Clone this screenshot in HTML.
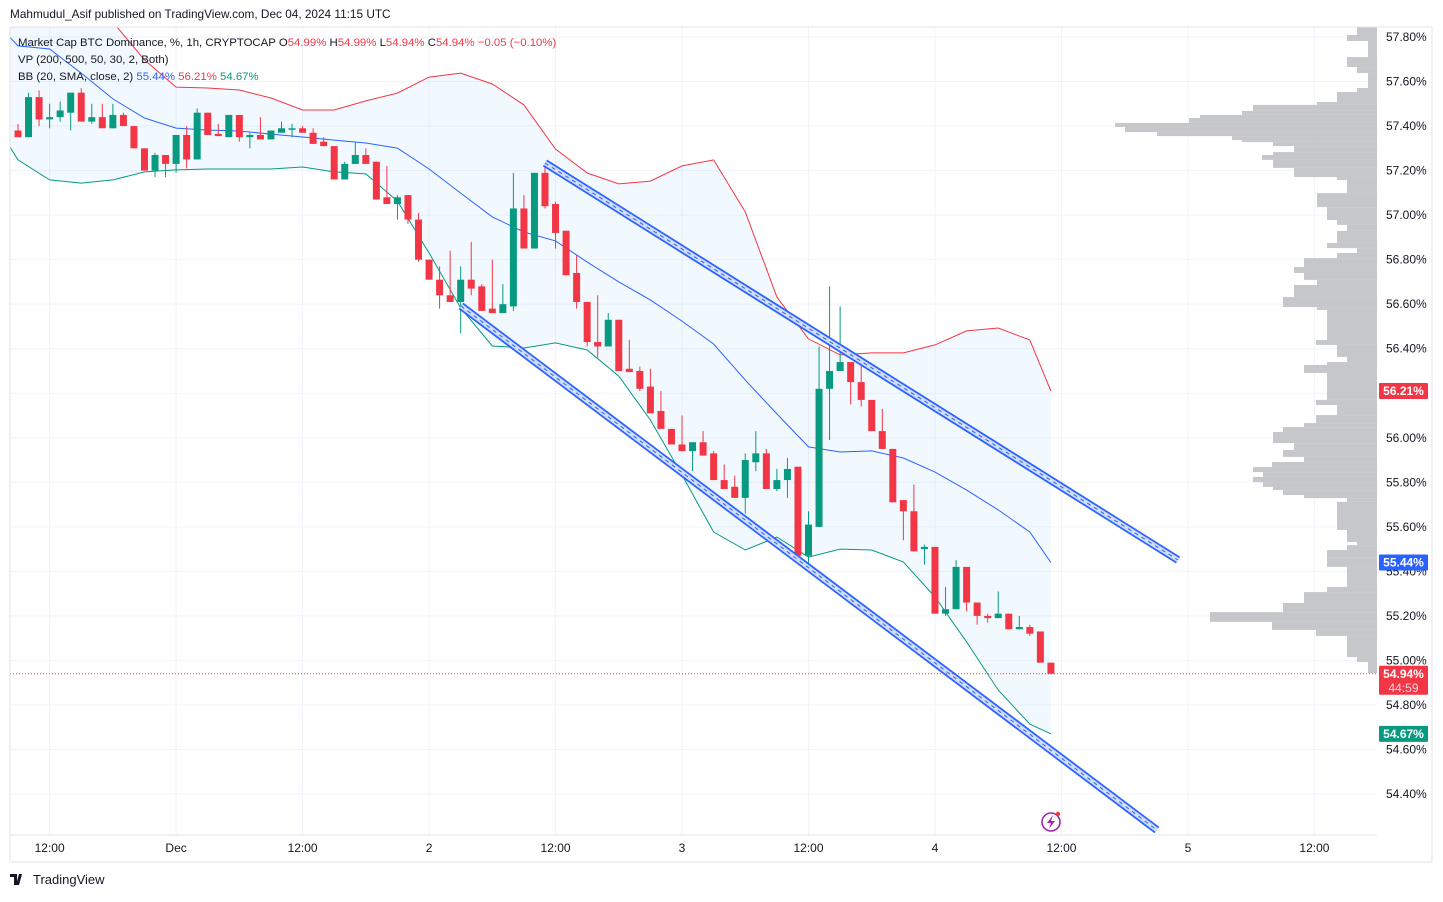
<!DOCTYPE html>
<html><head><meta charset="utf-8">
<style>
body{margin:0;background:#fff;width:1443px;height:897px;overflow:hidden;font-family:"Liberation Sans",sans-serif;}
svg text{font-family:"Liberation Sans",sans-serif;}
</style></head>
<body>
<svg id="chart" width="1443" height="897" xmlns="http://www.w3.org/2000/svg">
<defs><clipPath id="plotClip"><rect x="10" y="27" width="1367" height="808"/></clipPath></defs>
<rect x="0" y="0" width="1443" height="897" fill="#fff"/>
<text x="10" y="18" font-size="11.8" fill="#131722">Mahmudul_Asif published on TradingView.com, Dec 04, 2024 11:15 UTC</text>
<g id="grid"></g>
<g id="vp"></g>
<g id="bands" clip-path="url(#plotClip)"></g>
<g id="candles"></g>
<g id="channels" clip-path="url(#plotClip)"></g>
<g id="axes"></g>
<rect x="10" y="27" width="1422" height="835" fill="none" stroke="#e0e3eb"/>
<g font-size="11.4">
<text x="18" y="46" fill="#131722">Market Cap BTC Dominance, %, 1h, CRYPTOCAP <tspan fill="#131722">O</tspan><tspan fill="#f23645">54.99%</tspan> <tspan fill="#131722">H</tspan><tspan fill="#f23645">54.99%</tspan> <tspan fill="#131722">L</tspan><tspan fill="#f23645">54.94%</tspan> <tspan fill="#131722">C</tspan><tspan fill="#f23645">54.94%</tspan> <tspan fill="#f23645">−0.05 (−0.10%)</tspan></text>
<text x="18" y="63" fill="#131722">VP (200, 500, 50, 30, 2, Both)</text>
<text x="18" y="80" fill="#131722">BB (20, SMA, close, 2) <tspan fill="#2962ff">55.44%</tspan> <tspan fill="#f23645">56.21%</tspan> <tspan fill="#089981">54.67%</tspan></text>
</g>
<g>
<circle cx="1051" cy="822" r="9" fill="none" stroke="#9c27b0" stroke-width="1.6"/>
<path d="M1053 815 L1047 823 L1051 823 L1049 829 L1055 821 L1051 821 Z" fill="#9c27b0"/>
<circle cx="1058" cy="814" r="2.2" fill="#f23645"/>
</g>
<g>
<path d="M10 874 h7 v11 h-3 v-8 h-4 z M19 874 h3 l-3 11 h-3 z" fill="#131722"/>
<circle cx="20" cy="876" r="1.5" fill="#131722"/>
<text x="33" y="884" font-size="13" fill="#131722">TradingView</text>
</g>
</svg>
<script>
const O=[57.38,57.35,57.53,57.43,57.44,57.46,57.55,57.42,57.44,57.39,57.45,57.40,57.30,57.20,57.27,57.23,57.36,57.25,57.46,57.365,57.35,57.45,57.35,57.36,57.34,57.37,57.387,57.39,57.37,57.33,57.31,57.16,57.23,57.27,57.24,57.08,57.05,57.09,56.98,56.80,56.71,56.64,56.61,56.71,56.68,56.58,56.56,56.59,57.03,56.85,57.19,57.05,56.93,56.74,56.61,56.43,56.41,56.53,56.31,56.30,56.23,56.12,56.04,55.97,55.94,55.98,55.93,55.81,55.78,55.73,55.89,55.93,55.77,55.81,55.87,55.47,55.60,56.22,56.30,56.34,56.25,56.17,56.03,55.95,55.72,55.67,55.50,55.51,55.21,55.23,55.42,55.26,55.20,55.19,55.21,55.14,55.15,55.13,54.99];
const H=[57.41,57.55,57.56,57.50,57.51,57.55,57.57,57.50,57.50,57.50,57.46,57.40,57.30,57.28,57.27,57.36,57.40,57.48,57.46,57.41,57.45,57.45,57.37,57.44,57.38,57.42,57.41,57.40,57.39,57.35,57.31,57.24,57.33,57.30,57.24,57.22,57.09,57.09,57.01,56.80,56.77,56.84,56.77,56.88,56.69,56.80,56.69,57.19,57.09,57.19,57.23,57.06,56.93,56.82,56.61,56.64,56.56,56.53,56.44,56.32,56.31,56.21,56.04,56.10,55.98,56.03,55.94,55.88,55.83,55.93,56.03,55.95,55.86,55.91,55.87,55.67,56.41,56.68,56.59,56.34,56.33,56.17,56.13,55.95,55.72,55.79,55.52,55.51,55.33,55.45,55.42,55.26,55.21,55.31,55.21,55.20,55.16,55.13,54.99];
const L=[57.35,57.35,57.40,57.39,57.42,57.38,57.42,57.41,57.39,57.39,57.40,57.30,57.20,57.17,57.17,57.19,57.21,57.25,57.36,57.355,57.35,57.33,57.30,57.34,57.34,57.37,57.35,57.37,57.32,57.31,57.16,57.16,57.23,57.23,57.07,57.05,56.98,56.96,56.79,56.71,56.58,56.61,56.47,56.64,56.57,56.56,56.56,56.57,56.85,56.85,57.03,56.85,56.73,56.58,56.41,56.36,56.41,56.30,56.295,56.21,56.11,56.04,55.97,55.94,55.85,55.92,55.81,55.77,55.73,55.66,55.85,55.77,55.76,55.73,55.47,55.43,55.60,55.99,56.30,56.15,56.14,56.03,55.95,55.71,55.54,55.49,55.43,55.21,55.20,55.23,55.22,55.16,55.17,55.19,55.14,55.14,55.11,54.99,54.94];
const C=[57.35,57.53,57.43,57.44,57.47,57.55,57.42,57.44,57.39,57.45,57.40,57.30,57.20,57.27,57.23,57.36,57.25,57.46,57.36,57.355,57.45,57.35,57.36,57.34,57.38,57.39,57.39,57.37,57.32,57.31,57.16,57.23,57.27,57.23,57.07,57.05,57.08,56.98,56.80,56.71,56.64,56.61,56.71,56.67,56.57,56.56,56.60,57.03,56.85,57.19,57.04,56.92,56.73,56.61,56.43,56.41,56.53,56.30,56.295,56.22,56.11,56.04,55.97,55.94,55.98,55.92,55.81,55.77,55.73,55.90,55.93,55.77,55.81,55.86,55.47,55.61,56.22,56.30,56.34,56.25,56.17,56.03,55.95,55.71,55.67,55.49,55.51,55.21,55.23,55.42,55.26,55.20,55.19,55.21,55.14,55.15,55.12,54.99,54.94];
const bbIdx=[-0.8,0,3,6,9,12,15,18,21,24,27,30,33,36,39,42,45,48,51,54,57,60,63,66,69,72,75,78,81,84,87,90,93,96,98];
const bbUpper=[58.30,58.236,58.146,58.034,57.867,57.697,57.575,57.571,57.562,57.526,57.472,57.472,57.513,57.548,57.620,57.638,57.589,57.495,57.297,57.189,57.140,57.153,57.221,57.248,57.014,56.632,56.444,56.372,56.381,56.381,56.417,56.480,56.493,56.439,56.21];
const bbMid=[57.80,57.76,57.746,57.638,57.522,57.436,57.391,57.382,57.378,57.364,57.351,57.337,57.324,57.301,57.207,57.099,56.992,56.924,56.884,56.789,56.700,56.619,56.524,56.421,56.259,56.107,55.959,55.936,55.941,55.909,55.846,55.765,55.676,55.577,55.44];
const bbLower=[57.308,57.248,57.158,57.144,57.158,57.194,57.203,57.207,57.207,57.207,57.216,57.194,57.185,57.063,56.830,56.583,56.412,56.403,56.426,56.394,56.277,56.080,55.833,55.577,55.496,55.554,55.464,55.500,55.496,55.442,55.285,55.083,54.867,54.714,54.67];
const vpEdges=[57.845,57.809,57.782,57.710,57.665,57.638,57.571,57.553,57.508,57.495,57.468,57.450,57.436,57.414,57.396,57.373,57.355,57.337,57.328,57.310,57.283,57.270,57.248,57.212,57.171,57.158,57.099,57.036,57.014,56.978,56.956,56.929,56.875,56.852,56.830,56.807,56.767,56.740,56.709,56.686,56.632,56.587,56.574,56.529,56.439,56.417,56.363,56.340,56.327,56.291,56.170,56.147,56.102,56.066,56.048,56.026,55.976,55.945,55.914,55.891,55.869,55.846,55.824,55.801,55.779,55.765,55.743,55.729,55.712,55.586,55.532,55.518,55.496,55.464,55.420,55.330,55.307,55.258,55.217,55.195,55.173,55.137,55.110,55.015,54.993,54.943];
const vpVol=[20,30,9,30,20,9,20,40,60,124,135,177,188,262,252,220,145,135,104,83,104,115,104,83,40,30,60,50,50,40,30,40,50,20,40,73,83,73,60,83,94,60,50,50,61,40,30,50,73,50,61,40,61,73,94,104,83,94,73,105,124,114,124,114,104,94,73,30,40,30,20,30,50,50,30,50,73,94,167,167,105,61,30,20,9];
const priceTicks=[57.8,57.6,57.4,57.2,57.0,56.8,56.6,56.4,56.2,56.0,55.8,55.6,55.4,55.2,55.0,54.8,54.6,54.4];
const timeIdx=[3,15,27,39,51,63,75,87,99,111,123];
const timeLabels=["12:00","Dec","12:00","2","12:00","3","12:00","4","12:00","5","12:00"];
const chUpper=[[50.0,57.234],[110.06,55.451]];
const chLower=[[42.03,56.592],[108.06,54.238]];
const lastPrice=54.94;

const NS="http://www.w3.org/2000/svg";
const X=i=>18+10.54*i;
const Y=p=>37+(57.80-p)*222.65;
function mk(tag,attrs,parent){const e=document.createElementNS(NS,tag);for(const k in attrs)e.setAttribute(k,attrs[k]);parent.appendChild(e);return e;}
const grid=document.getElementById('grid'),vp=document.getElementById('vp'),bands=document.getElementById('bands'),cg=document.getElementById('candles'),ch=document.getElementById('channels'),ax=document.getElementById('axes');
priceTicks.forEach(p=>{const l=mk('line',{x1:10,x2:1377,y1:Y(p),y2:Y(p),stroke:'#f0f3fa'},grid);

});
timeIdx.forEach(i=>{const l=mk('line',{x1:X(i),x2:X(i),y1:27,y2:835,stroke:'#f0f3fa'},grid);

});
vpVol.forEach((v,k)=>{const y1=Y(vpEdges[k]),y2=Y(vpEdges[k+1]);const r=mk('rect',{x:1377-v,y:y1,width:v,height:y2-y1,fill:'#c6c7cb'},vp);

});
function pts(arr){return bbIdx.map((i,k)=>X(i).toFixed(1)+','+Y(arr[k]).toFixed(1));}
const up=pts(bbUpper),lo=pts(bbLower);
const fill=mk('polygon',{points:up.concat(lo.slice().reverse()).join(' '),fill:'#2196f3','fill-opacity':'0.06'},bands);


[[bbUpper,'#f23645','bb-upper'],[bbMid,'#2962ff','bb-basis'],[bbLower,'#089981','bb-lower']].forEach(([a,c,n])=>{const pl=mk('polyline',{points:pts(a).join(' '),fill:'none',stroke:c,'stroke-width':1},bands);

});
O.forEach((o,i)=>{const c=C[i],g=c>=o,col=g?'#089981':'#f23645',x=X(i);
const w=mk('line',{x1:x,x2:x,y1:Y(H[i]),y2:Y(L[i]),stroke:col,'stroke-width':1},cg);


const t=Math.min(Y(o),Y(c)),h=Math.max(1.5,Math.abs(Y(o)-Y(c)));
const b=mk('rect',{x:x-3.5,y:t,width:7,height:h,fill:col},cg);

});
[chUpper,chLower].forEach((c,k)=>{const a={x1:X(c[0][0]),y1:Y(c[0][1]),x2:X(c[1][0]),y2:Y(c[1][1])};
const g=mk('g',{},ch);


mk('line',Object.assign({stroke:'#2962ff','stroke-width':8},a),g);
mk('line',Object.assign({stroke:'#d3ddfc','stroke-width':4.5},a),g);
mk('line',Object.assign({stroke:'#2962ff','stroke-width':1,'stroke-dasharray':'4 4'},a),g);});
const lp=mk('line',{x1:10,x2:1377,y1:Y(lastPrice),y2:Y(lastPrice),stroke:'#f23645','stroke-dasharray':'1 2'},ax);


priceTicks.forEach(p=>{const t=mk('text',{x:1386,y:Y(p)+4,'font-size':12,fill:'#131722'},ax);t.textContent=p.toFixed(2)+'%';

});
timeIdx.forEach((i,k)=>{const t=mk('text',{x:X(i),y:852,'font-size':12,fill:'#131722','text-anchor':'middle'},ax);t.textContent=timeLabels[k];

});
function tag(p,col,txt,name,txt2){const y=Y(p);const h=txt2?29:16;
const r=mk('rect',{x:1379,y:y-8,width:49,height:h,fill:col,rx:1},ax);


const t=mk('text',{x:1403.5,y:y+4,'font-size':12,'font-weight':'bold',fill:'#fff','text-anchor':'middle'},ax);t.textContent=txt;
if(txt2){const t2=mk('text',{x:1403.5,y:y+18,'font-size':12,fill:'#ffd6da','text-anchor':'middle'},ax);t2.textContent=txt2;}}
tag(bbUpper[bbUpper.length-1],'#f23645','56.21%','bb-upper-price-tag');
tag(bbMid[bbMid.length-1],'#2962ff','55.44%','bb-basis-price-tag');
tag(lastPrice,'#f23645','54.94%','last-price-tag','44:59');
tag(bbLower[bbLower.length-1],'#089981','54.67%','bb-lower-price-tag');
mk('line',{x1:10,x2:1377,y1:835,y2:835,stroke:'#e0e3eb'},ax);
</script>
</body></html>
